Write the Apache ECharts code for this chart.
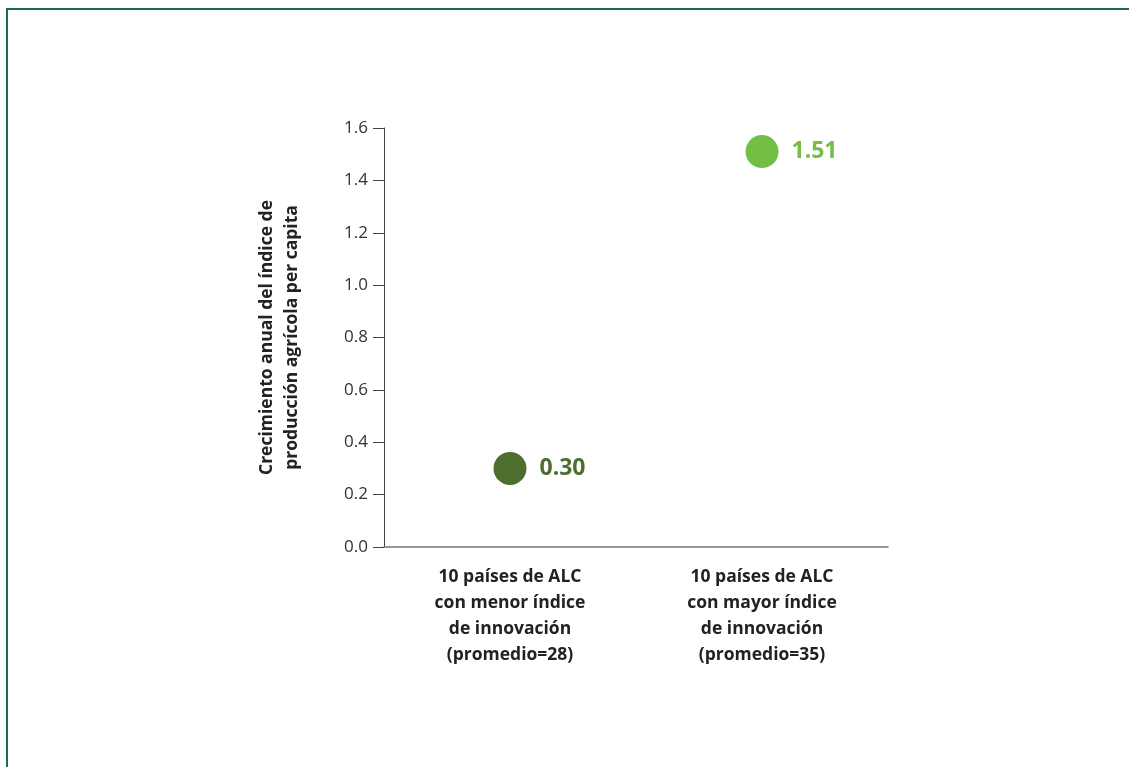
<!DOCTYPE html>
<html>
<head>
<meta charset="utf-8">
<style>
  html, body { margin: 0; padding: 0; background: #fff; }
  #frame {
    position: absolute; left: 6px; top: 8px; width: 1123px; height: 759px;
    border-top: 2px solid #1d6b47; border-left: 2px solid #1d6b47;
    box-sizing: border-box;
  }
  #chart { position: absolute; left: 0; top: 0; width: 1129px; height: 767px; }
</style>
<script src="https://cdn.jsdelivr.net/npm/echarts@6/dist/echarts.min.js"></script>
</head>
<body>
<div id="frame"></div>
<div id="chart"></div>
<script>
var categories = [
    '10 países de ALC\ncon menor índice\nde innovación\n(promedio=28)',
    '10 países de ALC\ncon mayor índice\nde innovación\n(promedio=35)'
];
var growthValues = [0.30, 1.51];
var pointColors = ['#4d6e2c', '#72bf44'];
var yTicks = [0, 1.6, 0.2]; // min, max, interval

var myChart = echarts.init(document.getElementById('chart'));
var fontName = '"Open Sans", sans-serif';

var option = {
    animation: false,
    grid: {
        left: 384,
        right: 241,
        top: 128,
        bottom: 220
    },
    xAxis: {
        type: 'category',
        data: categories,
        boundaryGap: true,
        axisLine: { lineStyle: { color: '#777', width: 1.5 } },
        axisTick: { show: false },
        axisLabel: {
            margin: 17,
            color: '#222',
            fontFamily: fontName,
            fontWeight: 'bold',
            fontSize: 17.5,
            lineHeight: 26,
            align: 'center'
        },
        splitLine: { show: false }
    },
    yAxis: {
        type: 'value',
        min: yTicks[0],
        max: yTicks[1],
        interval: yTicks[2],
        name: 'Crecimiento anual del índice de\nproducción agrícola per capita',
        nameLocation: 'middle',
        nameGap: 79,
        nameTextStyle: {
            color: '#222',
            fontFamily: fontName,
            fontWeight: 'bold',
            fontSize: 17.5,
            lineHeight: 25
        },
        axisLine: { show: true, lineStyle: { color: '#444', width: 1 } },
        axisTick: { show: true, length: 11, lineStyle: { color: '#444' } },
        axisLabel: {
            margin: 16,
            color: '#333',
            fontFamily: fontName,
            fontSize: 17,
            formatter: function (v) { return v.toFixed(1); }
        },
        splitLine: { show: false }
    },
    series: [{
        type: 'scatter',
        symbol: 'circle',
        symbolSize: 33,
        data: growthValues.map(function (v, i) {
            return {
                value: v,
                itemStyle: { color: pointColors[i], opacity: 1 },
                label: { color: pointColors[i] }
            };
        }),
        label: {
            show: true,
            position: 'right',
            distance: 13,
            fontFamily: fontName,
            fontWeight: 'bold',
            fontSize: 23,
            formatter: function (p) { return p.value.toFixed(2); }
        }
    }]
};

myChart.setOption(option, true);
</script>
</body>
</html>
